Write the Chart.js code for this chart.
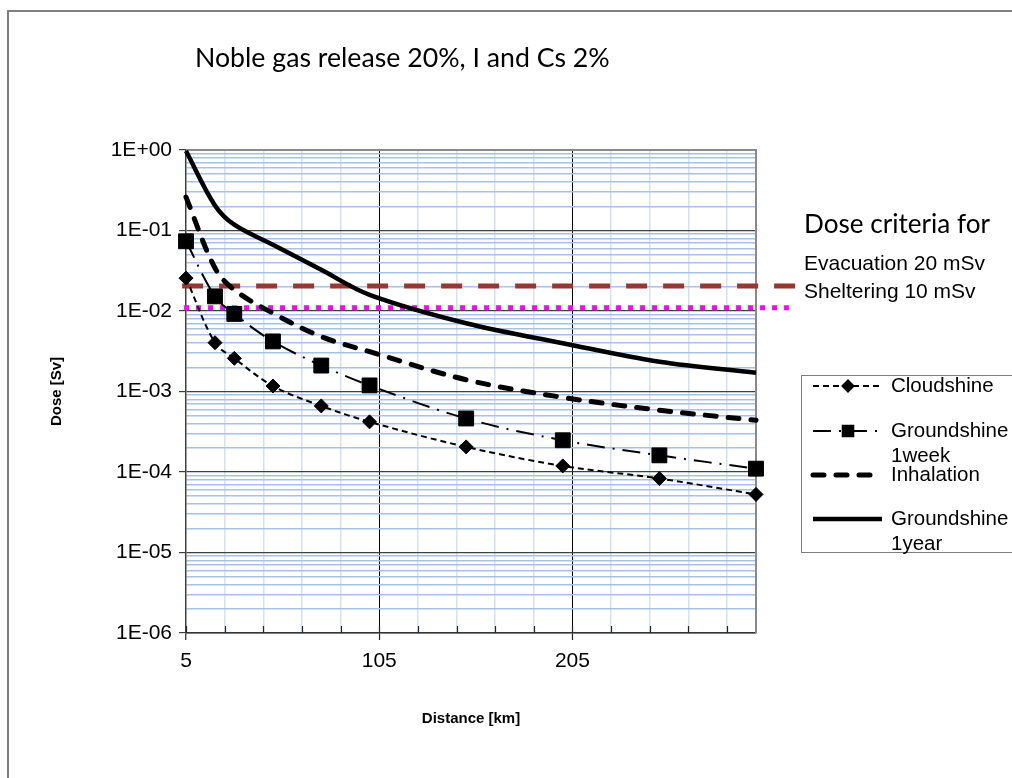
<!DOCTYPE html>
<html>
<head>
<meta charset="utf-8">
<script src="https://cdn.jsdelivr.net/npm/chart.js@4.4.1/dist/chart.umd.min.js"></script>
<style>
  html, body { margin: 0; padding: 0; background: #ffffff; }
  #wrap { position: relative; width: 1012px; height: 778px; }
</style>
</head>
<body>
<div id="wrap"><canvas id="c" width="1012" height="778"></canvas></div>
<script>
// ---------------- data ----------------
const distances = [5, 20, 30, 50, 75, 100, 150, 200, 250, 300];
const cloudshine = [0.0256, 0.00404, 0.00258, 0.00117, 0.000662, 0.00042, 0.000205, 0.000119, 0.000083, 0.0000527];
const groundshine1week = [0.0735, 0.0152, 0.0092, 0.00419, 0.0021, 0.00119, 0.000462, 0.000248, 0.000161, 0.00011];
const inhalation = [0.26, 0.0342, 0.0183, 0.0094, 0.0048, 0.00313, 0.0014, 0.000845, 0.000586, 0.00044];
const groundshine1year = [0.97, 0.205, 0.118, 0.0665, 0.0325, 0.0159, 0.00705, 0.00398, 0.00234, 0.00171];

const evacuationX = [3, 321];
const evacuationLevel = 0.0205;
const shelteringX = [4, 317];
const shelteringLevel = 0.011;

const seriesNames = ['Cloudshine', 'Groundshine 1week', 'Inhalation', 'Groundshine 1year'];
const yMajorTicks = [1e-6, 1e-5, 1e-4, 1e-3, 1e-2, 1e-1, 1];
const yTickLabels = ['1E-06', '1E-05', '1E-04', '1E-03', '1E-02', '1E-01', '1E+00'];
const xTicks = [5, 25, 45, 65, 85, 105, 125, 145, 165, 185, 205, 225, 245, 265, 285];
const xMajorTicks = [5, 105, 205];
const xTickLabels = ['5', '105', '205'];

const titleText = 'Noble gas release 20%, I and Cs 2%';
const criteriaTitle = 'Dose criteria for';
const criteriaLabels = ['Evacuation 20 mSv', 'Sheltering 10 mSv'];
const legendLabels = [['Cloudshine'], ['Groundshine', '1week'], ['Inhalation'], ['Groundshine', '1year']];

// ---------------- helpers ----------------
const pts = (xs, ys) => xs.map((x, i) => ({ x: x, y: ys[i] }));
const isMajorY = v => yMajorTicks.some(m => Math.abs(Math.log10(v) - Math.log10(m)) < 1e-6);
const ARIAL = "'Liberation Sans', Arial, sans-serif";
const CALIBRI = "Lato, 'Open Sans', sans-serif";

function fitFont(ctx, text, family, target) {
  ctx.font = '20px ' + family;
  const w = ctx.measureText(text).width;
  return (20 * target / w).toFixed(2) + 'px ' + family;
}

const datasets = [
  {
    label: seriesNames[0], data: pts(distances, cloudshine),
    borderColor: '#000', backgroundColor: '#000', borderWidth: 2, borderDash: [6, 4],
    pointStyle: 'rectRot', pointRadius: 7, pointBorderWidth: 1, tension: 0.35, clip: false, order: 1
  },
  {
    label: seriesNames[1], data: pts(distances, groundshine1week),
    borderColor: '#000', backgroundColor: '#000', borderWidth: 2, borderDash: [18, 8, 2, 8],
    pointStyle: 'rect', pointRadius: 10.5, pointBorderWidth: 1, tension: 0.35, clip: false, order: 2
  },
  {
    label: seriesNames[2], data: pts(distances, inhalation),
    borderColor: '#000', backgroundColor: '#000', borderWidth: 5, borderDash: [11, 12], borderCapStyle: 'round',
    pointRadius: 0, tension: 0.35, clip: false, order: 3
  },
  {
    label: seriesNames[3], data: pts(distances, groundshine1year),
    borderColor: '#000', backgroundColor: '#000', borderWidth: 4.5,
    pointRadius: 0, tension: 0.35, clip: false, order: 4
  },
  {
    label: criteriaLabels[0], data: pts(evacuationX, [evacuationLevel, evacuationLevel]),
    borderColor: '#953735', backgroundColor: '#953735', borderWidth: 5, borderDash: [21, 16],
    pointRadius: 0, clip: false, order: 6
  },
  {
    label: criteriaLabels[1], data: pts(shelteringX, [shelteringLevel, shelteringLevel]),
    borderColor: '#ff00ff', backgroundColor: '#ff00ff', borderWidth: 5, borderDash: [5, 7],
    pointRadius: 0, clip: false, order: 5
  }
];

// ---------------- decoration plugin ----------------
const decor = {
  id: 'decor',
  beforeDraw(chart) {
    const ctx = chart.ctx;
    ctx.save();
    ctx.fillStyle = '#fff';
    ctx.fillRect(0, 0, chart.width, chart.height);
    ctx.strokeStyle = '#7f7f7f';
    ctx.lineWidth = 2;
    ctx.strokeRect(8, 11, 1200, 1000);
    ctx.restore();
  },
  beforeDatasetsDraw(chart) {
    const ctx = chart.ctx;
    const a = chart.chartArea;
    const xs = chart.scales.x;
    ctx.save();
    ctx.strokeStyle = '#8a8a8a';
    ctx.lineWidth = 2;
    ctx.beginPath();
    ctx.moveTo(a.left, a.top);
    ctx.lineTo(a.right, a.top);
    ctx.lineTo(a.right, a.bottom);
    ctx.stroke();
    ctx.strokeStyle = '#222';
    ctx.lineWidth = 1.2;
    ctx.beginPath();
    xTicks.forEach(v => {
      const px = Math.round(xs.getPixelForValue(v)) + 0.5;
      ctx.moveTo(px, a.bottom);
      ctx.lineTo(px, a.bottom - 7);
    });
    ctx.stroke();
    ctx.restore();
  },
  afterDraw(chart) {
    const ctx = chart.ctx;
    ctx.save();
    ctx.fillStyle = '#000';
    ctx.textAlign = 'left';
    // title
    ctx.textBaseline = 'alphabetic';
    ctx.font = fitFont(ctx, 'Noble gas release 20%, I a', CALIBRI, 305);
    ctx.fillText(titleText, 195, 67);
    // dose criteria
    ctx.font = fitFont(ctx, criteriaTitle, CALIBRI, 186);
    ctx.fillText(criteriaTitle, 804, 233);
    ctx.textBaseline = 'middle';
    ctx.font = "21px " + ARIAL;
    ctx.fillText(criteriaLabels[0], 804, 264);
    ctx.fillText(criteriaLabels[1], 804, 292);

    // legend box
    ctx.strokeStyle = '#7f7f7f';
    ctx.lineWidth = 1;
    ctx.strokeRect(801.5, 375.5, 300, 177);
    const rows = [386, 431, 475, 519];
    const x0 = 813, x1 = 882, xm = 848, tx = 891;
    ctx.font = "20.5px " + ARIAL;
    legendLabels.forEach((lines, i) => {
      const ds = chart.data.datasets[i];
      const y = rows[i];
      ctx.save();
      ctx.strokeStyle = ds.borderColor;
      ctx.lineWidth = ds.borderWidth;
      ctx.lineCap = ds.borderCapStyle || 'butt';
      ctx.setLineDash(ds.borderDash || []);
      ctx.beginPath();
      ctx.moveTo(x0, y);
      ctx.lineTo(x1, y);
      ctx.stroke();
      ctx.setLineDash([]);
      if (ds.pointRadius > 0) {
        Chart.helpers.drawPoint(ctx, {
          pointStyle: ds.pointStyle, radius: ds.pointStyle === 'rect' ? 7.5 : 5.5,
          rotation: 0, borderWidth: 1
        }, xm, y);
        ctx.fillStyle = '#000';
        ctx.fill();
      }
      ctx.restore();
      ctx.fillStyle = '#000';
      lines.forEach((t, k) => ctx.fillText(t, tx, y + k * 25));
    });
    ctx.restore();
  }
};

new Chart(document.getElementById('c'), {
  type: 'line',
  data: { datasets: datasets },
  plugins: [decor],
  options: {
    responsive: false,
    animation: false,
    events: [],
    layout: { padding: { left: 0, top: 150, right: 256, bottom: 0 } },
    plugins: { legend: { display: false }, tooltip: { enabled: false }, title: { display: false } },
    scales: {
      x: {
        type: 'linear', min: 5, max: 300,
        afterFit: s => { s.height = 145; },
        afterBuildTicks: s => { s.ticks = xTicks.map(v => ({ value: v })); },
        ticks: {
          autoSkip: false, maxRotation: 0, padding: 9, color: '#000',
          font: { family: ARIAL, size: 21 },
          callback: v => { const i = xMajorTicks.indexOf(v); return i >= 0 ? xTickLabels[i] : ''; }
        },
        grid: {
          drawTicks: true, tickLength: 7,
          color: c => (c.tick && (c.tick.value === 105 || c.tick.value === 205)) ? '#000' : (c.tick && c.tick.value === 5 ? 'rgba(0,0,0,0)' : '#d5e0f1'),
          lineWidth: c => (c.tick && (c.tick.value === 105 || c.tick.value === 205)) ? 1 : 1.5,
          tickColor: c => (c.tick && xMajorTicks.indexOf(c.tick.value) >= 0) ? '#222' : 'rgba(0,0,0,0)',
          tickWidth: 1.2
        },
        border: { display: true, color: '#333', width: 1.5 },
        title: {
          display: true, text: 'Distance [km]', color: '#000',
          font: { family: ARIAL, size: 15, weight: 'bold' },
          padding: { top: 0, bottom: 50 }
        }
      },
      y: {
        type: 'logarithmic', min: 1e-6, max: 1,
        afterFit: s => { s.width = 186; },
        afterBuildTicks: s => {
          const t = [];
          yMajorTicks.forEach((m, i) => {
            t.push({ value: m });
            if (i < yMajorTicks.length - 1) {
              for (let k = 2; k <= 9; k++) t.push({ value: m * k });
            }
          });
          s.ticks = t;
        },
        ticks: {
          autoSkip: false, padding: 7, color: '#000',
          font: { family: ARIAL, size: 21 },
          callback: v => { const i = yMajorTicks.findIndex(m => Math.abs(Math.log10(v) - Math.log10(m)) < 1e-6); return i >= 0 ? yTickLabels[i] : ''; }
        },
        grid: {
          drawTicks: true, tickLength: 7,
          color: c => (c.tick && isMajorY(c.tick.value)) ? '#404040' : '#a9c1e5',
          lineWidth: c => (c.tick && isMajorY(c.tick.value)) ? 1.2 : 1.5,
          tickColor: c => (c.tick && isMajorY(c.tick.value)) ? '#404040' : 'rgba(0,0,0,0)',
          tickWidth: 1.2
        },
        border: { display: true, color: '#404040', width: 1.5 },
        title: {
          display: true, text: 'Dose [Sv]', color: '#000',
          font: { family: ARIAL, size: 15, weight: 'bold' },
          padding: { top: 48, bottom: 0 }
        }
      }
    }
  }
});
</script>
</body>
</html>
